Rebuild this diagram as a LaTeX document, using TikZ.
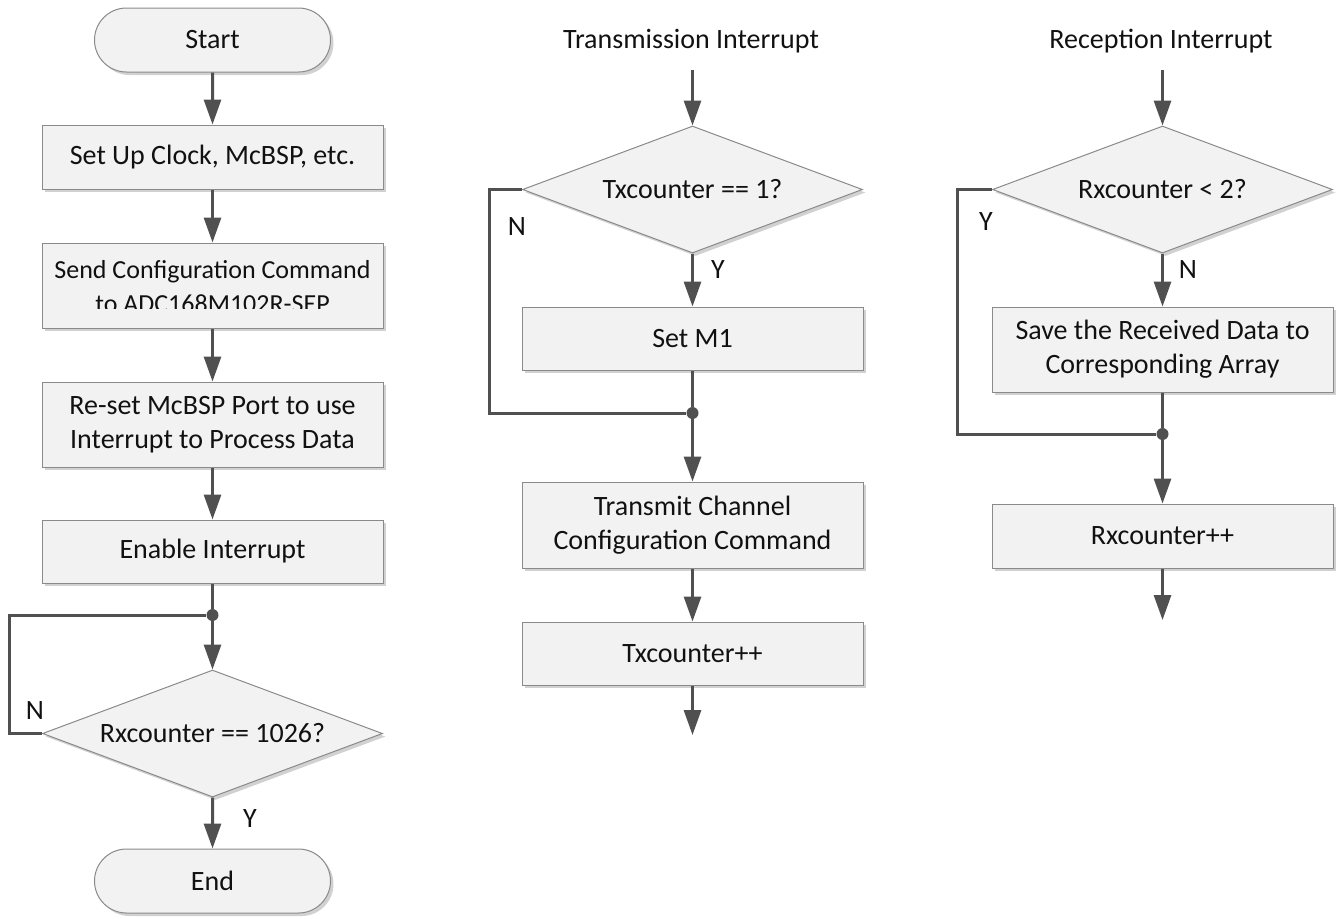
\documentclass[tikz,border=0pt]{standalone}
\usepackage{fontspec}
\setmainfont{Carlito}
\usetikzlibrary{shapes.geometric,shapes.misc,arrows.meta,shadows}
\definecolor{boxfill}{HTML}{F2F2F2}
\definecolor{boxline}{HTML}{8A8A8A}
\definecolor{linecol}{HTML}{505050}
\definecolor{txtcol}{HTML}{111111}
\tikzset{
  shad/.style={drop shadow={shadow xshift=1.5pt,shadow yshift=-1.5pt,fill=black,opacity=0.18}},
  lbl/.style={font=\fontsize{14}{17}\selectfont,text=txtcol,align=center,inner sep=0pt},
  procbox/.style={rectangle,draw=boxline,fill=boxfill,line width=0.5pt,minimum width=170.5pt,shad,lbl},
  termbox/.style={rounded rectangle,draw=boxline,fill=boxfill,line width=0.5pt,minimum width=118pt,minimum height=32pt,shad,lbl},
  decbox/.style={diamond,aspect=2.68,draw=boxline,fill=boxfill,line width=0.5pt,minimum width=170pt,minimum height=63.5pt,shad,lbl},
  jdot/.style={circle,fill=linecol,minimum size=6pt,inner sep=0pt},
  wire/.style={draw=linecol,line width=1.5pt},
  conn/.style={wire,-{Triangle[length=12.5pt,width=8.5pt]}},
}
\begin{document}
\begin{tikzpicture}[x=0.5pt,y=-0.5pt]
\useasboundingbox (0,0) rectangle (1337,918);
% ---------- left column ----------
\node[termbox] (start) at (212.5,40) {Start};
\node[procbox,minimum height=32pt] (box1) at (212.5,157) {Set Up Clock, McBSP, etc.};
\node[procbox,minimum height=42.5pt] (box2) at (212.5,285.5) {};
\begin{scope}
  \clip (42,243) rectangle (383,308);
  \node[lbl,font=\fontsize{13}{17}\selectfont] (box2t) at (212.5,287) {Send Configuration Command\\to ADC168M102R-SEP};
\end{scope}
\node[procbox,minimum height=42.5pt] (box3) at (212.5,424.5) {Re-set McBSP Port to use\\Interrupt to Process Data};
\node[procbox,minimum height=31.5pt] (box4) at (212.5,551.5) {Enable Interrupt};
\node[jdot] (dot1) at (212.5,615) {};
\node[decbox] (dia1) at (212.5,733.5) {Rxcounter == 1026?};
\node[termbox] (end) at (212.5,881) {End};
\node[lbl] (n1) at (35,710) {N};
\node[lbl] (y1) at (250,818) {Y};

\draw[conn] (start) -- (box1);
\draw[conn] (box1) -- (box2);
\draw[conn] (box2) -- (box3);
\draw[conn] (box3) -- (box4);
\draw[wire] (box4) -- (dot1);
\draw[conn] (dot1) -- (dia1);
\draw[conn] (dia1) -- (end);
\draw[wire] (dia1.west) -- ++(-33,0) |- (dot1);

% ---------- middle column ----------
\node[lbl] (ttitle) at (691,41) {Transmission Interrupt};
\coordinate (tin) at (692.5,70);
\node[decbox] (dia2) at (692.5,189.5) {Txcounter == 1?};
\node[procbox,minimum height=31.5pt] (setm1) at (692.5,338.5) {Set M1};
\node[jdot] (dot2) at (692.5,413) {};
\node[procbox,minimum height=43pt] (trans) at (692.5,525) {Transmit Channel\\Configuration Command};
\node[procbox,minimum height=31.5pt] (txpp) at (692.5,653.5) {Txcounter++};
\coordinate (tout) at (692.5,735);
\node[lbl] (n2) at (517,227) {N};
\node[lbl] (y2) at (718,270) {Y};

\draw[conn] (tin) -- (dia2);
\draw[conn] (dia2) -- (setm1);
\draw[wire] (setm1) -- (dot2);
\draw[conn] (dot2) -- (trans);
\draw[conn] (trans) -- (txpp);
\draw[conn] (txpp) -- (tout);
\draw[wire] (dia2.west) -- ++(-33,0) |- (dot2);

% ---------- right column ----------
\node[lbl] (rtitle) at (1161,41) {Reception Interrupt};
\coordinate (rin) at (1162.5,70);
\node[decbox] (dia3) at (1162.5,189.5) {Rxcounter < 2?};
\node[procbox,minimum height=42.5pt] (save) at (1162.5,349.5) {Save the Received Data to\\Corresponding Array};
\node[jdot] (dot3) at (1162.5,434) {};
\node[procbox,minimum height=32pt] (rxpp) at (1162.5,536) {Rxcounter++};
\coordinate (rout) at (1162.5,620);
\node[lbl] (y3) at (986,222) {Y};
\node[lbl] (n3) at (1188,270) {N};

\draw[conn] (rin) -- (dia3);
\draw[conn] (dia3) -- (save);
\draw[wire] (save) -- (dot3);
\draw[conn] (dot3) -- (rxpp);
\draw[conn] (rxpp) -- (rout);
\draw[wire] (dia3.west) -- ++(-35,0) |- (dot3);
\end{tikzpicture}
\end{document}
